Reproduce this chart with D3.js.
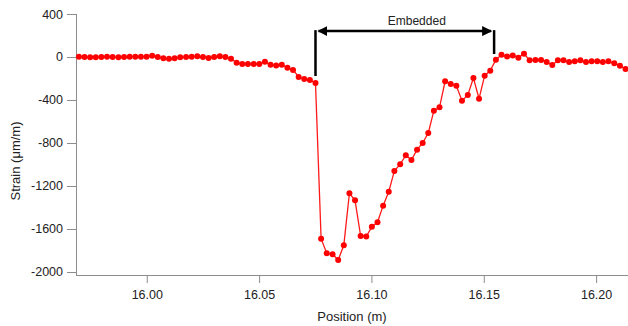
<!DOCTYPE html>
<html>
<head>
<meta charset="utf-8">
<script src="https://cdn.jsdelivr.net/npm/d3@7"></script>
<style>
  body { margin: 0; background: #fff; }
  svg { display: block; font-family: "Liberation Sans", Arial, sans-serif; }
  .axis path, .axis line { stroke: #8c8c8c; }
  .axis text { fill: #222; font-size: 12.5px; }
</style>
</head>
<body>
<div id="chart"></div>
<script>
// fibre strain profile, positions in m
var positions = [
  15.9698, 15.9723, 15.9748, 15.9773, 15.9798, 15.9823, 15.9848, 15.9874, 15.9899, 15.9924,
  15.9949, 15.9974, 15.9999, 16.0024, 16.0049, 16.0074, 16.0099, 16.0124, 16.0149, 16.0175,
  16.0200, 16.0225, 16.0250, 16.0275, 16.0300, 16.0325, 16.0350, 16.0375, 16.0400, 16.0425,
  16.0450, 16.0476, 16.0501, 16.0526, 16.0551, 16.0576, 16.0601, 16.0626, 16.0651, 16.0676,
  16.0701, 16.0726, 16.0751, 16.0776, 16.0801, 16.0827, 16.0852, 16.0877, 16.0902, 16.0927,
  16.0952, 16.0977, 16.1002, 16.1027, 16.1052, 16.1077, 16.1102, 16.1128, 16.1153, 16.1178,
  16.1203, 16.1228, 16.1253, 16.1278, 16.1303, 16.1328, 16.1353, 16.1378, 16.1403, 16.1429,
  16.1454, 16.1479, 16.1504, 16.1529, 16.1554, 16.1579, 16.1604, 16.1629, 16.1654, 16.1679,
  16.1704, 16.1730, 16.1755, 16.1780, 16.1805, 16.1830, 16.1855, 16.1880, 16.1905, 16.1930,
  16.1955, 16.1980, 16.2005, 16.2030, 16.2055, 16.2081, 16.2106, 16.2131
];

var strain = [
  3, 0, -3, -3, 0, 3, 0, -3, 0, 3,
  3, 3, 3, 12, 0, -12, -16, -12, -3, 0,
  3, 6, 0, -9, 0, 6, 0, -16, -53, -65,
  -65, -65, -65, -45, -73, -78, -71, -100, -120, -186,
  -205, -214, -242, -1690, -1826, -1835, -1888, -1752, -1268, -1333,
  -1665, -1671, -1578, -1538, -1383, -1253, -1060, -998, -914, -958,
  -862, -800, -707, -499, -468, -226, -251, -267, -406, -353,
  -195, -388, -174, -127, -25, 22, 5, 14, -6, 31,
  -31, -28, -28, -47, -74, -31, -31, -47, -40, -31,
  -47, -40, -40, -47, -40, -59, -81, -112
];

var yTicks = [-2000, -1600, -1200, -800, -400, 0, 400];
var xTicks = [16.00, 16.05, 16.10, 16.15, 16.20];

// "Embedded" bracket: start/end position, bar tops and bottoms (strain units)
var embedLabel = "Embedded";
var embedStart = 16.0751, embedEnd = 16.1546;
var embedTop = 250, embedStartBottom = -177, embedEndBottom = 28;

var width = 628, height = 326;
var margin = {top: 14, right: 0, bottom: 51, left: 76};

var svg = d3.select("#chart").append("svg")
    .attr("width", width)
    .attr("height", height);

var x = d3.scaleLinear()
    .domain([15.9685, 16.2142])
    .range([margin.left, width - margin.right]);

var y = d3.scaleLinear()
    .domain([-2028, 400])
    .range([height - margin.bottom, margin.top]);

var data = positions.map(function(p, i) { return {x: p, y: strain[i]}; });

svg.append("g")
    .attr("class", "axis")
    .attr("transform", "translate(0," + (height - margin.bottom) + ")")
    .call(d3.axisBottom(x).tickValues(xTicks).tickSize(8).tickPadding(7)
        .tickFormat(d3.format(".2f")))
    .call(function(g) { g.select(".domain").attr("d", "M" + margin.left + ",0.5H" + width); });

svg.append("g")
    .attr("class", "axis")
    .attr("transform", "translate(" + margin.left + ",0)")
    .call(d3.axisLeft(y).tickValues(yTicks).tickSize(9).tickPadding(4)
        .tickFormat(function(d) { return String(d); }))
    .call(function(g) {
        g.select(".domain").attr("d", "M0.5," + margin.top + "V" + (height - margin.bottom));
    });

var line = d3.line()
    .x(function(d) { return x(d.x); })
    .y(function(d) { return y(d.y); });

svg.append("path")
    .datum(data)
    .attr("fill", "none")
    .attr("stroke", "#ff1a1a")
    .attr("stroke-width", 1.3)
    .attr("d", line);

svg.append("g")
    .selectAll("circle")
    .data(data)
    .enter().append("circle")
    .attr("cx", function(d) { return x(d.x); })
    .attr("cy", function(d) { return y(d.y); })
    .attr("r", 3)
    .attr("fill", "#ff0000");

// annotation
svg.append("defs").append("marker")
    .attr("id", "ah")
    .attr("viewBox", "0 0 10 10")
    .attr("refX", 9).attr("refY", 5)
    .attr("markerWidth", 4).attr("markerHeight", 4)
    .attr("orient", "auto-start-reverse")
    .append("path")
    .attr("d", "M0,0L10,5L0,10z")
    .attr("fill", "#000");

var ann = svg.append("g").attr("stroke", "#000").attr("stroke-width", 2.5);
ann.append("line")
    .attr("x1", x(embedStart)).attr("x2", x(embedStart))
    .attr("y1", y(embedTop)).attr("y2", y(embedStartBottom));
ann.append("line")
    .attr("x1", x(embedEnd)).attr("x2", x(embedEnd))
    .attr("y1", y(embedTop)).attr("y2", y(embedEndBottom));
ann.append("line")
    .attr("x1", x(embedStart) + 3).attr("x2", x(embedEnd) - 3)
    .attr("y1", y(embedTop) + 1).attr("y2", y(embedTop) + 1)
    .attr("marker-start", "url(#ah)")
    .attr("marker-end", "url(#ah)");

svg.append("text")
    .attr("x", (x(embedStart) + x(embedEnd)) / 2 + 12)
    .attr("y", y(embedTop) - 5)
    .attr("text-anchor", "middle")
    .attr("font-size", 12)
    .attr("fill", "#222")
    .text(embedLabel);

svg.append("text")
    .attr("x", (margin.left + width) / 2)
    .attr("y", 321)
    .attr("text-anchor", "middle")
    .attr("font-size", 13)
    .attr("fill", "#222")
    .text("Position (m)");

svg.append("text")
    .attr("transform", "translate(20,161) rotate(-90)")
    .attr("text-anchor", "middle")
    .attr("font-size", 13)
    .attr("fill", "#222")
    .text("Strain (μm/m)");
</script>
</body>
</html>
